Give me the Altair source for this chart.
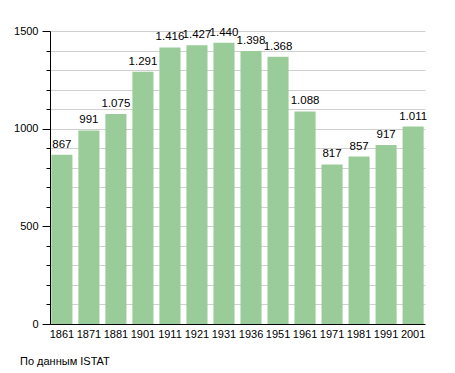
import altair as alt
import pandas as pd

years = ["1861", "1871", "1881", "1901", "1911", "1921", "1931", "1936", "1951", "1961", "1971", "1981", "1991", "2001"]
population = [867, 991, 1075, 1291, 1416, 1427, 1440, 1398, 1368, 1088, 817, 857, 917, 1011]
labels = ["867", "991", "1.075", "1.291", "1.416", "1.427", "1.440", "1.398", "1.368", "1.088", "817", "857", "917", "1.011"]

df = pd.DataFrame({"year": years, "pop": population, "label": labels})

W, H = 375, 293
FONT = "Liberation Sans"

x = alt.X("year:N", sort=None,
          scale=alt.Scale(paddingInner=0.22, paddingOuter=0.05),
          axis=alt.Axis(title=None, labelAngle=0, ticks=False, domainColor="black",
                        labelFont=FONT, labelFontSize=11, labelColor="black", labelPadding=4))
y = alt.Y("pop:Q", scale=alt.Scale(domain=[0, 1500], nice=False),
          axis=alt.Axis(title=None, values=list(range(0, 1501, 100)),
                        labelExpr="datum.value % 500 == 0 ? datum.value : ''",
                        labelOverlap=False, labelBound=False, labelFlush=False,
                        gridColor="#d0d0d0", domainColor="black", tickColor="black",
                        tickSize={"condition": {"test": "datum.value % 500 === 0", "value": 8}, "value": 4},
                        labelFont=FONT, labelFontSize=11, labelColor="black",
                        labelPadding=4))

bars = alt.Chart(df).mark_bar(color="#99cc99").encode(x=x, y=y)
text = alt.Chart(df).mark_text(dy=-10, font=FONT, fontSize=11.5, color="black").encode(
    x=x, y=y, text="label:N")
note = alt.Chart(pd.DataFrame({"t": ["По данным  ISTAT"]})).mark_text(
    align="left", baseline="middle", font=FONT, fontSize=11, color="black").encode(
    x=alt.value(-30), y=alt.value(H + 38), text="t:N")

chart = alt.layer(bars, text, note).properties(
    width=W, height=H,
    autosize=alt.AutoSizeParams(type="none"),
    padding={"left": 42, "top": 23, "right": 20, "bottom": 50},
).configure_view(stroke=None)

chart.save("out.html", embed_options={"renderer": "svg", "actions": False})
